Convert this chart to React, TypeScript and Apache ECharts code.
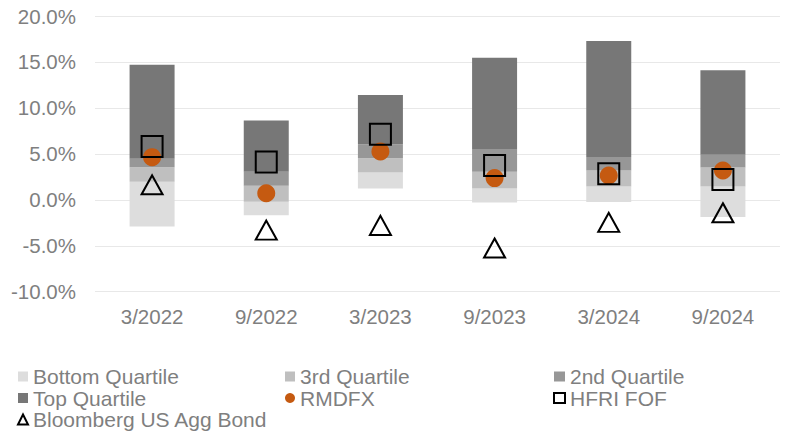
import React, { useEffect, useRef } from "react";
import * as echarts from "echarts";

const categories = ["3/2022", "9/2022", "3/2023", "9/2023", "3/2024", "9/2024"];
// quartile range boundaries (%)
const rangeLow = [-2.9, -1.67, 1.23, -0.29, -0.25, -1.88];
const bottomQuartileTop = [1.96, -0.22, 2.97, 1.23, 1.45, 1.45];
const thirdQuartileTop = [3.55, 1.52, 4.53, 3.04, 3.19, 3.51];
const secondQuartileTop = [4.46, 3.04, 6.05, 5.54, 4.67, 4.89];
const topQuartileTop = [14.7, 8.62, 11.4, 15.47, 17.28, 14.09];
// markers (%)
const rmdfx = [4.64, 0.72, 5.25, 2.36, 2.64, 3.19];
const hfriFof = [5.8, 4.1, 7.14, 3.73, 2.83, 2.21];
const aggBond = [1.63, -3.3, -2.79, -5.25, -2.46, -1.41];
const yTicks = { min: -10, max: 20, interval: 5 };

const FONT = "Liberation Sans, Arial, sans-serif";
const TEXT_COLOR = "#7f7f7f";

const diff = (a: number[], b: number[]) => a.map((v, i) => +(v - b[i]).toFixed(4));

export default function App() {
  const ref = useRef<HTMLDivElement>(null);
  useEffect(() => {
    if (!ref.current) return;
    const chart = echarts.init(ref.current, null, { renderer: "svg" });
    const barCommon = {
      type: "bar" as const,
      stack: "q",
      stackStrategy: "all",
      barWidth: 45,
    };
    const legendText = { color: TEXT_COLOR, fontSize: 21, fontFamily: FONT, lineHeight: 20 };
    chart.setOption({
      animation: false,
      grid: { left: 95, right: 8, top: 16, bottom: 145.3 },
      xAxis: {
        type: "category",
        data: categories,
        axisLine: { show: false },
        axisTick: { show: false },
        axisLabel: { color: TEXT_COLOR, fontSize: 20.5, fontFamily: FONT, margin: 14 },
      },
      yAxis: {
        type: "value",
        min: yTicks.min,
        max: yTicks.max,
        interval: yTicks.interval,
        axisLine: { show: false },
        axisTick: { show: false },
        splitLine: { lineStyle: { color: "#e8e8e8", width: 1 } },
        axisLabel: {
          color: TEXT_COLOR,
          fontSize: 20.5,
          fontFamily: FONT,
          margin: 19,
          formatter: (v: number) => v.toFixed(1) + "%",
        },
      },
      legend: [
        {
          orient: "vertical",
          left: 17,
          top: 366,
          padding: 0,
          itemGap: 0.5,
          itemWidth: 10,
          itemHeight: 10,
          textStyle: legendText,
          data: [
            { name: "Bottom Quartile", icon: "rect" },
            { name: "Top Quartile", icon: "rect" },
            { name: "Bloomberg US Agg Bond" },
          ],
        },
        {
          orient: "vertical",
          left: 285,
          top: 366,
          padding: 0,
          itemGap: 0.5,
          itemWidth: 10,
          itemHeight: 10,
          textStyle: legendText,
          data: [{ name: "3rd Quartile", icon: "rect" }, { name: "RMDFX" }],
        },
        {
          orient: "vertical",
          left: 553,
          top: 366,
          padding: 0,
          itemGap: 0.5,
          itemWidth: 11,
          itemHeight: 10,
          textStyle: legendText,
          data: [{ name: "2nd Quartile", icon: "rect" }, { name: "HFRI FOF" }],
        },
      ],
      series: [
        {
          ...barCommon,
          name: "base",
          data: rangeLow,
          itemStyle: { color: "transparent" },
          silent: true,
        },
        {
          ...barCommon,
          name: "Bottom Quartile",
          data: diff(bottomQuartileTop, rangeLow),
          itemStyle: { color: "#dddddd" },
        },
        {
          ...barCommon,
          name: "3rd Quartile",
          data: diff(thirdQuartileTop, bottomQuartileTop),
          itemStyle: { color: "#bfbfbf" },
        },
        {
          ...barCommon,
          name: "2nd Quartile",
          data: diff(secondQuartileTop, thirdQuartileTop),
          itemStyle: { color: "#979797" },
        },
        {
          ...barCommon,
          name: "Top Quartile",
          data: diff(topQuartileTop, secondQuartileTop),
          itemStyle: { color: "#777777" },
        },
        {
          type: "scatter",
          name: "RMDFX",
          data: rmdfx,
          symbol: "circle",
          symbolSize: 18,
          itemStyle: { color: "#c55a11", opacity: 1 },
          z: 3,
        },
        {
          type: "scatter",
          name: "HFRI FOF",
          data: hfriFof,
          symbol: "rect",
          symbolSize: 21,
          itemStyle: { color: "transparent", borderColor: "#000000", borderWidth: 2, opacity: 1 },
          z: 4,
        },
        {
          type: "scatter",
          name: "Bloomberg US Agg Bond",
          data: aggBond,
          symbol: "triangle",
          symbolSize: [21, 19],
          itemStyle: { color: "transparent", borderColor: "#000000", borderWidth: 2, opacity: 1 },
          z: 4,
        },
      ],
    });
    return () => chart.dispose();
  }, []);
  return <div ref={ref} style={{ width: 788, height: 437, position: "absolute", left: 0, top: 0 }} />;
}
